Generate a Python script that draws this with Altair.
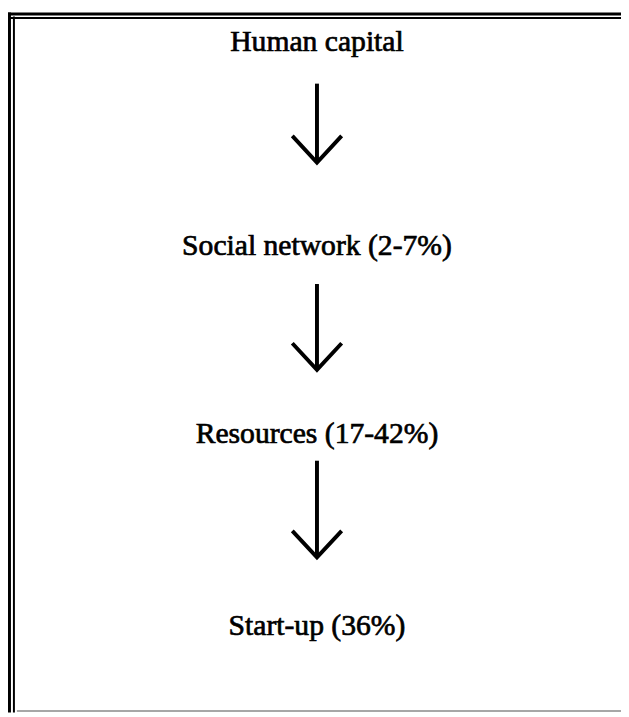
import altair as alt
import pandas as pd

# ---- data -------------------------------------------------------------
stages = ["Human capital", "Social network (2-7%)", "Resources (17-42%)", "Start-up (36%)"]
stage_y = [38, 245, 435, 630]          # vertical centre of each label
arrow_top = [80, 283, 462]             # start of each arrow shaft
arrow_tip = [160, 370, 560]            # arrow tip
centre_x = 321
head_dx, head_dy = 25, 27

# frame lines: (x, y, x2, y2, stroke width, colour)
frame_x = [9.5, 14, 8, 8, 17]
frame_y = [8, 12, 9.5, 13.5, 715.5]
frame_x2 = [9.5, 14, 629, 629, 629]
frame_y2 = [717, 717, 9.5, 13.5, 715.5]
frame_w = [3, 2, 3, 2, 1.5]
frame_c = ["#000000", "#000000", "#000000", "#000000", "#8a8a8a"]

# ---- tables -------------------------------------------------------------
frame = pd.DataFrame({"x": frame_x, "y": frame_y, "x2": frame_x2, "y2": frame_y2,
                      "w": frame_w, "c": frame_c})
labels = pd.DataFrame({"label": stages, "x": [centre_x] * len(stages), "y": stage_y})
shafts = pd.DataFrame({"x": [centre_x] * 3, "y": arrow_top, "y2": arrow_tip})
heads = []
for i, tip in enumerate(arrow_tip):
    heads += [
        {"arrow": i, "o": 0, "x": centre_x - head_dx, "y": tip - head_dy},
        {"arrow": i, "o": 1, "x": centre_x, "y": tip},
        {"arrow": i, "o": 2, "x": centre_x + head_dx, "y": tip - head_dy},
    ]
heads = pd.DataFrame(heads)

xs = alt.Scale(domain=[8, 629], nice=False, zero=False)
ys = alt.Scale(domain=[8, 717], nice=False, zero=False, reverse=True)

frame_layer = alt.Chart(frame).mark_rule().encode(
    x=alt.X("x:Q", scale=xs, axis=None),
    x2="x2:Q",
    y=alt.Y("y:Q", scale=ys, axis=None),
    y2="y2:Q",
    strokeWidth=alt.StrokeWidth("w:Q", scale=None, legend=None),
    color=alt.Color("c:N", scale=None, legend=None),
)

shaft_layer = alt.Chart(shafts).mark_rule(color="black", strokeWidth=4).encode(
    x=alt.X("x:Q", scale=xs, axis=None),
    y=alt.Y("y:Q", scale=ys, axis=None),
    y2="y2:Q",
)

head_layer = alt.Chart(heads).mark_line(color="black", strokeWidth=4, strokeJoin="miter",
                                        strokeCap="butt").encode(
    x=alt.X("x:Q", scale=xs, axis=None),
    y=alt.Y("y:Q", scale=ys, axis=None),
    detail="arrow:N",
    order="o:Q",
)

text_layer = alt.Chart(labels).mark_text(
    font="Liberation Serif", fontSize=30, color="black", stroke="black", strokeWidth=0.7,
    align="center", baseline="middle",
).encode(
    x=alt.X("x:Q", scale=xs, axis=None),
    y=alt.Y("y:Q", scale=ys, axis=None),
    text="label:N",
)

chart = alt.layer(frame_layer, shaft_layer, head_layer, text_layer).properties(
    width=621, height=709, padding=0, autosize=alt.AutoSizeParams(type="none"),
    background="white",
).configure_view(stroke=None)

chart.save("out.html", embed_options={"renderer": "svg", "actions": False})
